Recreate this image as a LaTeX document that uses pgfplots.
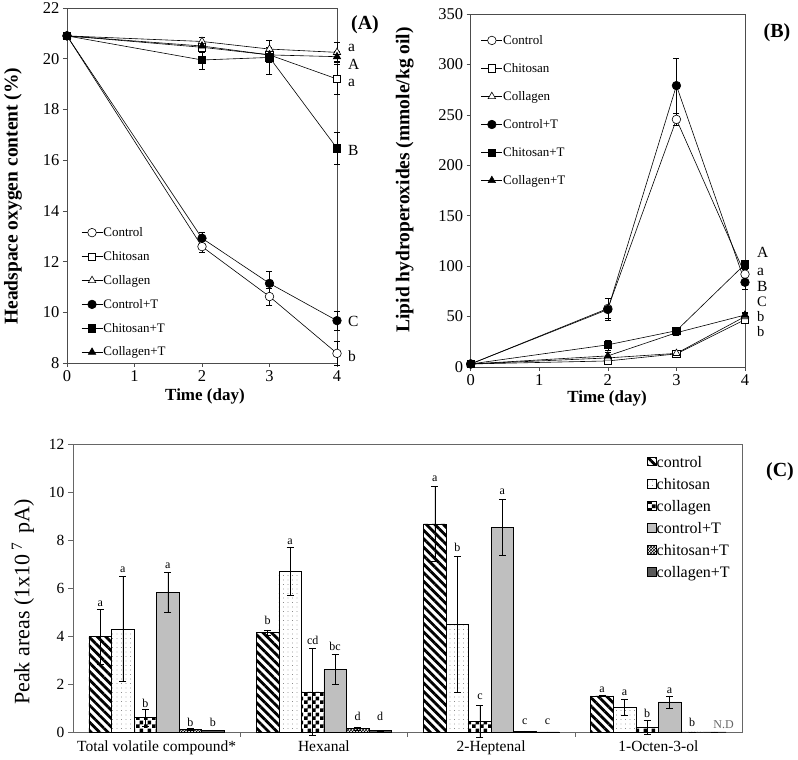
\documentclass[border=0pt]{standalone}
\usepackage{fontspec}
\setmainfont{Liberation Serif}
\usepackage{pgfplots}
\pgfplotsset{compat=1.18}
\usetikzlibrary{patterns,patterns.meta}

\pgfdeclarepatternformonly{checker}{\pgfpointorigin}{\pgfpoint{8pt}{8pt}}{\pgfpoint{8pt}{8pt}}{%
 \pgfpathrectangle{\pgfpointorigin}{\pgfpoint{4pt}{4pt}}%
 \pgfpathrectangle{\pgfpoint{4pt}{4pt}}{\pgfpoint{4pt}{4pt}}%
 \pgfusepath{fill}}

\pgfplotsset{
  lineaxis/.style={
    scale only axis, anchor=south west,
    xmin=0, xmax=4, xtick={0,1,2,3,4},
    tick pos=left, tick align=outside, major tick length=4pt,
    tick style={black!70, line width=0.5pt},
    axis line style={black!70, line width=0.6pt},
    tick label style={font=\fontsize{16.5}{16.5}\selectfont},
    /pgf/number format/assume math mode=true,
    xlabel style={font=\bfseries\fontsize{17}{17}\selectfont},
    ylabel style={font=\bfseries\fontsize{19.5}{19.5}\selectfont},
    legend cell align=left,
    legend image code/.code={\draw[mark repeat=2,mark phase=2,##1] plot coordinates {(0pt,0pt) (10.5pt,0pt) (21pt,0pt)};},
    clip=false,
  },
  ser/.style={black, line width=0.6pt, mark options={solid, line width=0.6pt},
    error bars/y dir=both, error bars/y explicit,
    error bars/error bar style={line width=0.5pt, black},
    error bars/error mark options={rotate=90, mark size=3pt, line width=0.5pt, black}},
  sControl/.style={ser, mark=*, mark size=4.3pt, mark options={fill=white}},
  sChitosan/.style={ser, mark=square*, mark size=3.7pt, mark options={fill=white}},
  sCollagen/.style={ser, mark=triangle*, mark size=4.3pt, mark options={fill=white}},
  sControlT/.style={ser, mark=*, mark size=4.3pt, mark options={fill=black}},
  sChitosanT/.style={ser, mark=square*, mark size=3.7pt, mark options={fill=black}},
  sCollagenT/.style={ser, mark=triangle*, mark size=4.3pt, mark options={fill=black}},
  ebar/.style={error bars/y dir=both, error bars/y explicit,
    error bars/error bar style={line width=0.5pt, black},
    error bars/error mark options={rotate=90, mark size=3.5pt, line width=0.5pt, black}},
}

\begin{document}
\begin{tikzpicture}
\useasboundingbox (0,0) rectangle (798pt,760pt);

% ---------------- Panel A ----------------
\begin{axis}[lineaxis,
  at={(67pt,397pt)}, width=270pt, height=355pt,
  ymin=8, ymax=22, ytick={8,10,...,22},
  xlabel={Time (day)}, ylabel={Headspace oxygen content (\%)},
  xlabel style={at={(axis description cs:0.511,-0.093)}, anchor=center},
  ylabel style={at={(axis description cs:-0.2,0.47)}, anchor=center},
  legend style={at={(axis description cs:0.052,0.384)}, anchor=north west, draw=none, fill=none,
    font=\fontsize{13}{13}\selectfont, row sep=12.4pt, inner sep=0pt, nodes={inner sep=0.5pt}},
]
\addplot[sControl] coordinates {(0,20.9) +- (0,0) (2,12.59) +- (0,0.24) (3,10.62) +- (0,0.34) (4,8.38) +- (0,0.46)};
\addlegendentry{Control}
\addplot[sChitosan] coordinates {(0,20.9) +- (0,0) (2,20.45) +- (0,0.2) (3,20.15) +- (0,0.3) (4,19.2) +- (0,0.6)};
\addlegendentry{Chitosan}
\addplot[sCollagen] coordinates {(0,20.9) +- (0,0) (2,20.68) +- (0,0.15) (3,20.38) +- (0,0.35) (4,20.25) +- (0,0.4)};
\addlegendentry{Collagen}
\addplot[sControlT] coordinates {(0,20.9) +- (0,0) (2,12.92) +- (0,0.24) (3,11.14) +- (0,0.49) (4,9.67) +- (0,0.38)};
\addlegendentry{Control+T}
\addplot[sChitosanT] coordinates {(0,20.9) +- (0,0) (2,19.95) +- (0,0.36) (3,20.05) +- (0,0.68) (4,16.47) +- (0,0.62)};
\addlegendentry{Chitosan+T}
\addplot[sCollagenT] coordinates {(0,20.9) +- (0,0) (2,20.5) +- (0,0.2) (3,20.15) +- (0,0.3) (4,20.08) +- (0,0.2)};
\addlegendentry{Collagen+T}
\begin{scope}[every node/.style={font=\fontsize{15.5}{15.5}\selectfont, anchor=west, inner sep=0pt, xshift=11pt}]
\node at (axis cs:4,20.42) {a};
\node at (axis cs:4,19.78) {A};
\node at (axis cs:4,19.04) {a};
\node at (axis cs:4,16.4) {B};
\node at (axis cs:4,9.62) {C};
\node at (axis cs:4,8.28) {b};
\end{scope}
\end{axis}

% ---------------- Panel B ----------------
\begin{axis}[lineaxis,
  at={(470.7pt,393pt)}, width=274.3pt, height=353pt,
  ymin=0, ymax=350, ytick={0,50,...,350},
  xlabel={Time (day)}, ylabel={Lipid hydroperoxides (mmole/kg oil)},
  xlabel style={at={(axis description cs:0.497,-0.088)}, anchor=center},
  ylabel style={at={(axis description cs:-0.24,0.53)}, anchor=center},
  legend style={at={(axis description cs:0.037,0.942)}, anchor=north west, draw=none, fill=none,
    font=\fontsize{13}{13}\selectfont, row sep=16.5pt, inner sep=0pt, nodes={inner sep=0.5pt}},
]
\addplot[sControl] coordinates {(0,3) +- (0,0) (2,58) +- (0,10) (3,245.5) +- (0,6) (4,92) +- (0,5)};
\addlegendentry{Control}
\addplot[sChitosan] coordinates {(0,3) +- (0,0) (2,6) +- (0,2) (3,13) +- (0,3) (4,47) +- (0,3)};
\addlegendentry{Chitosan}
\addplot[sCollagen] coordinates {(0,3) +- (0,0) (2,9) +- (0,2) (3,13.5) +- (0,3) (4,50) +- (0,3)};
\addlegendentry{Collagen}
\addplot[sControlT] coordinates {(0,3) +- (0,0) (2,57) +- (0,11) (3,279) +- (0,27) (4,84) +- (0,7)};
\addlegendentry{Control+T}
\addplot[sChitosanT] coordinates {(0,3) +- (0,0) (2,22) +- (0,5) (3,36) +- (0,3) (4,102) +- (0,3)};
\addlegendentry{Chitosan+T}
\addplot[sCollagenT] coordinates {(0,3) +- (0,0) (2,11) +- (0,4) (3,34) +- (0,3) (4,51.5) +- (0,3)};
\addlegendentry{Collagen+T}
\begin{scope}[every node/.style={font=\fontsize{15.5}{15.5}\selectfont, anchor=west, inner sep=0pt, xshift=12pt}]
\node at (axis cs:4,114) {A};
\node at (axis cs:4,94) {a};
\node at (axis cs:4,80.3) {B};
\end{scope}
\begin{scope}[every node/.style={font=\fontsize{14.5}{14.5}\selectfont, anchor=west, inner sep=0pt, xshift=12pt}]
\node at (axis cs:4,65) {C};
\node at (axis cs:4,50) {b};
\node at (axis cs:4,35) {b};
\end{scope}
\end{axis}

% ---------------- Panel C ----------------
\begin{axis}[
  at={(73pt,28pt)}, anchor=south west, scale only axis, width=669pt, height=288pt,
  xmin=-0.5, xmax=3.5, ymin=0, ymax=12,
  ybar, bar width=0.135,
  xtick={0,1,2,3},
  xticklabels={Total volatile compound*, Hexanal, 2-Heptenal, 1-Octen-3-ol},
  minor xtick={0.5,1.5,2.5},
  ytick={0,2,...,12},
  tick pos=left, tick align=outside,
  major tick length=5pt, minor tick length=5pt,
  major x tick style={draw=none},
  tick style={black!60, line width=0.5pt},
  minor x tick style={black!60, line width=0.5pt},
  axis line style={black!60, line width=0.6pt},
  tick label style={font=\fontsize{15.5}{15.5}\selectfont},
  /pgf/number format/assume math mode=true,
  ylabel={Peak areas (1x10\,\textsuperscript{7}\, pA)},
  ylabel style={at={(axis description cs:-0.0747,0.451)}, anchor=center, font=\fontsize{22}{22}\selectfont},
  clip=false,
  legend style={at={(axis description cs:0.858,0.961)}, anchor=north west, draw=none, fill=none,
    font=\fontsize{16}{16}\selectfont, row sep=8.5pt, inner sep=0pt, nodes={inner sep=0.5pt}},
  legend cell align=left,
  legend image code/.code={\draw[#1, draw=black, line width=0.5pt] (0pt,-3.5pt) rectangle (8.5pt,5pt);},
]
\addplot[ebar, bar shift=-0.337, draw=black, line width=0.5pt, pattern={Lines[angle=-45,distance=6pt,line width=2.8pt]}]
  coordinates {(0,3.97) +- (0,1.14) (1,4.15) +- (0,0.1) (2,8.67) +- (0,1.56) (3,1.50) +- (0,0.02)};
\addlegendentry{control}
\addplot[ebar, bar shift=-0.202, draw=black, line width=0.5pt, pattern={Dots[distance=4.5pt,radius=0.45pt]}, pattern color=black!70]
  coordinates {(0,4.30) +- (0,2.2) (1,6.68) +- (0,1.0) (2,4.50) +- (0,2.84) (3,1.03) +- (0,0.35)};
\addlegendentry{chitosan}
\addplot[ebar, bar shift=-0.067, draw=black, line width=0.5pt, pattern=checker]
  coordinates {(0,0.60) +- (0,0.35) (1,1.67) +- (0,1.82) (2,0.45) +- (0,0.65) (3,0.19) +- (0,0.3)};
\addlegendentry{collagen}
\addplot[ebar, bar shift=0.067, draw=black, line width=0.5pt, fill=black!25]
  coordinates {(0,5.82) +- (0,0.83) (1,2.60) +- (0,0.63) (2,8.53) +- (0,1.17) (3,1.25) +- (0,0.25)};
\addlegendentry{control+T}
\addplot[ebar, bar shift=0.202, draw=black, line width=0.5pt, pattern=crosshatch]
  coordinates {(0,0.12) +- (0,0.04) (1,0.14) +- (0,0.07) (2,0.04) +- (0,0.01) (3,0) +- (0,0)};
\addlegendentry{chitosan+T}
\addplot[ebar, bar shift=0.337, draw=black, line width=0.5pt, fill=black!65]
  coordinates {(0,0.08) +- (0,0.01) (1,0.06) +- (0,0.01) (2,0.01) +- (0,0) (3,0) +- (0,0)};
\addlegendentry{collagen+T}
\begin{scope}[every node/.style={font=\fontsize{12}{12}\selectfont}]
\node at (axis cs:-0.337,5.36) {a};
\node at (axis cs:-0.202,6.75) {a};
\node at (axis cs:-0.067,1.18) {b};
\node at (axis cs:0.067,6.92) {a};
\node at (axis cs:0.202,0.38) {b};
\node at (axis cs:0.337,0.38) {b};
\node at (axis cs:0.663,4.64) {b};
\node at (axis cs:0.798,7.94) {a};
\node at (axis cs:0.933,3.80) {cd};
\node at (axis cs:1.067,3.55) {bc};
\node at (axis cs:1.202,0.63) {d};
\node at (axis cs:1.337,0.63) {d};
\node at (axis cs:1.663,10.54) {a};
\node at (axis cs:1.798,7.68) {b};
\node at (axis cs:1.933,1.46) {c};
\node at (axis cs:2.067,10.02) {a};
\node at (axis cs:2.202,0.42) {c};
\node at (axis cs:2.337,0.42) {c};
\node at (axis cs:2.663,1.77) {a};
\node at (axis cs:2.798,1.64) {a};
\node at (axis cs:2.933,0.77) {b};
\node at (axis cs:3.067,1.71) {a};
\node at (axis cs:3.202,0.38) {b};
\node[text=black!60] at (axis cs:3.39,0.32) {N.D};
\end{scope}
\end{axis}

\node[font=\bfseries\fontsize{20}{20}\selectfont] at (365pt,735pt) {(A)};
\node[font=\bfseries\fontsize{20}{20}\selectfont] at (777pt,727pt) {(B)};
\node[font=\bfseries\fontsize{20}{20}\selectfont] at (780pt,288pt) {(C)};
\end{tikzpicture}
\end{document}
